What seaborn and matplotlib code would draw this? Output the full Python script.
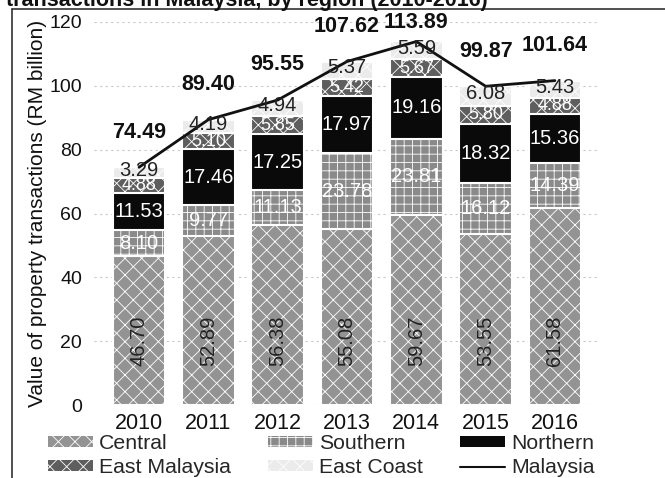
import matplotlib
matplotlib.use('Agg')
import matplotlib.pyplot as plt
import seaborn as sns
import numpy as np
from matplotlib.patches import Patch
from matplotlib.lines import Line2D

years = ['2010', '2011', '2012', '2013', '2014', '2015', '2016']
central = [46.70, 52.89, 56.38, 55.08, 59.67, 53.55, 61.58]
southern = [8.10, 9.77, 11.13, 23.78, 23.81, 16.12, 14.39]
northern = [11.53, 17.46, 17.25, 17.97, 19.16, 18.32, 15.36]
east_malaysia = [4.88, 5.10, 5.85, 5.42, 5.67, 5.80, 4.88]
east_coast = [3.29, 4.19, 4.94, 5.37, 5.59, 6.08, 5.43]
malaysia = [74.49, 89.40, 95.55, 107.62, 113.89, 99.87, 101.64]
yticks = [0, 20, 40, 60, 80, 100, 120]
series_names = ['Central', 'Southern', 'Northern', 'East Malaysia', 'East Coast']

sns.set_theme(style='white')
plt.rcParams['font.family'] = ['Liberation Sans', 'DejaVu Sans']
plt.rcParams['hatch.linewidth'] = 0.6

styles = {
    'Central': dict(color='#939393', hatch='xx'),
    'Southern': dict(color='#8a8a8a', hatch='++'),
    'Northern': dict(color='#0a0a0a', hatch=None),
    'East Malaysia': dict(color='#5e5e5e', hatch='xx'),
    'East Coast': dict(color='#ebebeb', hatch='xx'),
}

fig = plt.figure(figsize=(6.65, 4.78), dpi=100)
ax = fig.add_axes([94/665, 1-405/478, 506/665, 383/478])

values = [central, southern, northern, east_malaysia, east_coast]
cum = np.cumsum(np.array(values), axis=0)

# overplot cumulative sums from top layer down
for i in range(len(values) - 1, -1, -1):
    st = styles[series_names[i]]
    sns.barplot(x=years, y=cum[i], color=st['color'], saturation=1, width=0.76,
                edgecolor='white', linewidth=1.5, hatch=st['hatch'],
                errorbar=None, ax=ax)

xpos = np.arange(len(years))
sns.lineplot(x=xpos, y=malaysia, color='#111111', linewidth=2, ax=ax, zorder=5)

fs = 14.5
for j in range(len(years)):
    ax.text(xpos[j], 20, f'{central[j]:.2f}', rotation=90, ha='center', va='center',
            color='#222222', fontsize=fs, zorder=6)
    ax.text(xpos[j], cum[0][j] + southern[j]/2, f'{southern[j]:.2f}', ha='center', va='center',
            color='white', fontsize=fs, zorder=6)
    ax.text(xpos[j], cum[1][j] + northern[j]/2, f'{northern[j]:.2f}', ha='center', va='center',
            color='white', fontsize=fs, zorder=6)
    ax.text(xpos[j], cum[2][j] + east_malaysia[j]/2, f'{east_malaysia[j]:.2f}', ha='center', va='center',
            color='white', fontsize=13, zorder=6)
    ax.text(xpos[j], cum[3][j] + east_coast[j]/2 + 0.7, f'{east_coast[j]:.2f}', ha='center', va='center',
            color='#222222', fontsize=fs, zorder=6)
    ax.text(xpos[j], min(malaysia[j] + 11, 119.8), f'{malaysia[j]:.2f}', ha='center', va='center',
            color='#111111', fontsize=15.5, fontweight='bold', zorder=6, clip_on=False)

ax.set_ylim(0, 120)
ax.set_xlim(-0.65, 6.65)
ax.set_yticks(yticks)
ax.set_yticklabels([str(t) for t in yticks])
ax.set_xlabel('')
ax.set_ylabel('Value of property transactions (RM billion)', fontsize=15, color='#111111', labelpad=2)
ax.tick_params(axis='y', labelsize=14, pad=8.5, length=0, colors='#111111')
ax.tick_params(axis='x', labelsize=15.5, pad=5.5, length=0, colors='#111111')
for s in ax.spines.values():
    s.set_visible(False)
ax.grid(axis='y', color='#c8c8c8', linestyle=(0, (2, 3)), linewidth=0.8)
ax.set_axisbelow(True)

handles = []
labels = []
order = ['Central', 'East Malaysia', 'Southern', 'East Coast', 'Northern', 'Malaysia']
for name in order:
    if name == 'Malaysia':
        handles.append(Line2D([0], [0], color='#111111', linewidth=1.5))
    else:
        st = styles[name]
        handles.append(Patch(facecolor=st['color'], edgecolor='white', hatch=st['hatch'], linewidth=0))
    labels.append(name)
fig.legend(handles, labels, ncol=3, loc='upper left', bbox_to_anchor=(48/665, 1-434/478),
           frameon=False, fontsize=15.3, handlelength=2.1, handleheight=0.4,
           handletextpad=0.3, columnspacing=1.75, labelspacing=0.25, borderpad=0, borderaxespad=0)

fig.text(6/665, 1-6/478, 'transactions in Malaysia, by region (2010-2016)', fontsize=15.5,
         fontweight='bold', ha='left', va='baseline', color='#111111')
fig.add_artist(Line2D([12/665, 12/665], [0, 1-9/478], transform=fig.transFigure, color='#333333', lw=1.2))
fig.add_artist(Line2D([12/665, 1], [1-9/478, 1-9/478], transform=fig.transFigure, color='#333333', lw=1.2))

fig.savefig('out.png', dpi=100)
